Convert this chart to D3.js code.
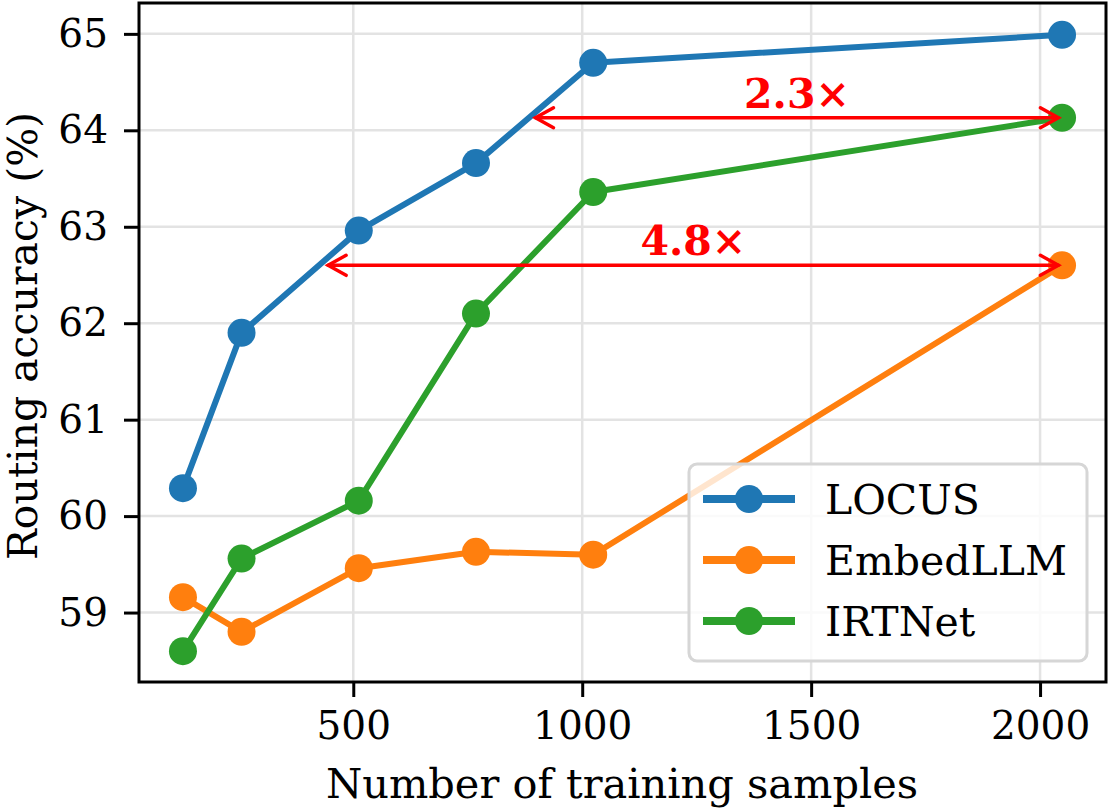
<!DOCTYPE html>
<html><head><meta charset="utf-8">
<script src="https://cdn.jsdelivr.net/npm/d3@7"></script>
<style>body{margin:0;background:#fff}svg{display:block}</style>
</head><body>
<script>
const samples = [128, 256, 512, 768, 1024, 2048];
const locus = [60.29, 61.90, 62.96, 63.66, 64.70, 64.99];
const embedllm = [59.16, 58.80, 59.46, 59.63, 59.60, 62.60];
const irtnet = [58.60, 59.56, 60.16, 62.10, 63.36, 64.13];
const seriesNames = ["LOCUS", "EmbedLLM", "IRTNet"];
const seriesColors = ["#1f77b4", "#ff7f0e", "#2ca02c"];
const xTicks = [500, 1000, 1500, 2000];
const yTicks = [59, 60, 61, 62, 63, 64, 65];
const arrowLabels = ["2.3×", "4.8×"];
const arrowFrom = [898, 445];
const arrowTo = [2040, 2040];
const arrowY = [64.13, 62.60];

const W = 1110, H = 809;
const m = {left: 139, right: 1106, top: 3, bottom: 682};
const svg = d3.select("body").append("svg").attr("width", W).attr("height", H);
const x = d3.scaleLinear().domain([32, 2144]).range([m.left, m.right]);
const y = d3.scaleLinear().domain([58.28, 65.32]).range([m.bottom, m.top]);
const font = "'DejaVu Serif', serif";

// grid
const g = svg.append("g");
g.selectAll(".gx").data(xTicks).join("line")
  .attr("x1", d => x(d)).attr("x2", d => x(d)).attr("y1", m.top).attr("y2", m.bottom)
  .attr("stroke", "#e3e3e3").attr("stroke-width", 2.5);
g.selectAll(".gy").data(yTicks).join("line")
  .attr("y1", d => y(d)).attr("y2", d => y(d)).attr("x1", m.left).attr("x2", m.right)
  .attr("stroke", "#e3e3e3").attr("stroke-width", 2.5);

// axes
const xAxis = svg.append("g").attr("transform", `translate(0,${m.bottom})`)
  .call(d3.axisBottom(x).tickValues(xTicks).tickSize(15).tickPadding(14).tickFormat(d3.format("d")));
const yAxis = svg.append("g").attr("transform", `translate(${m.left},0)`)
  .call(d3.axisLeft(y).tickValues(yTicks).tickSize(15).tickPadding(16).tickFormat(d3.format("d")));
[xAxis, yAxis].forEach(a => {
  a.select(".domain").remove();
  a.selectAll(".tick line").attr("stroke", "#000").attr("stroke-width", 3);
  a.selectAll(".tick text").attr("font-family", font).attr("font-size", 39).attr("fill", "#000");
});

// series
const allSeries = [locus, embedllm, irtnet];
const line = d3.line().x((d, i) => x(samples[i])).y(d => y(d));
allSeries.forEach((vals, k) => {
  svg.append("path").datum(vals).attr("d", line).attr("fill", "none")
    .attr("stroke", seriesColors[k]).attr("stroke-width", 6).attr("stroke-linejoin", "round");
  svg.append("g").selectAll("circle").data(vals).join("circle")
    .attr("cx", (d, i) => x(samples[i])).attr("cy", d => y(d)).attr("r", 14)
    .attr("fill", seriesColors[k]);
});

// arrows
arrowLabels.forEach((lab, k) => {
  const x1 = x(arrowFrom[k]), x2 = x(arrowTo[k]), yy = y(arrowY[k]);
  const ag = svg.append("g").attr("stroke", "#ff0000").attr("stroke-width", 3.5).attr("fill", "none")
    .attr("stroke-linecap", "round").attr("stroke-linejoin", "miter");
  ag.append("line").attr("x1", x1).attr("x2", x2).attr("y1", yy).attr("y2", yy);
  ag.append("path").attr("d", `M${x1 + 18},${yy - 10}L${x1},${yy}L${x1 + 18},${yy + 10}`);
  ag.append("path").attr("d", `M${x2 - 18},${yy - 10}L${x2},${yy}L${x2 - 18},${yy + 10}`);
  svg.append("text").attr("x", (x1 + x2) / 2).attr("y", yy - 10)
    .attr("text-anchor", "middle").attr("font-family", font).attr("font-weight", "bold")
    .attr("font-size", 41).attr("fill", "#ff0000").text(lab);
});

// frame
svg.append("rect").attr("x", m.left).attr("y", m.top).attr("width", m.right - m.left).attr("height", m.bottom - m.top)
  .attr("fill", "none").attr("stroke", "#000").attr("stroke-width", 3);

// legend
const lg = svg.append("g");
lg.append("rect").attr("x", 689).attr("y", 464).attr("width", 398).attr("height", 197).attr("rx", 8)
  .attr("fill", "rgba(255,255,255,0.8)").attr("stroke", "#d6d6d6").attr("stroke-width", 3);
seriesNames.forEach((name, k) => {
  const yy = 499 + k * 61;
  lg.append("line").attr("x1", 703).attr("x2", 795).attr("y1", yy).attr("y2", yy)
    .attr("stroke", seriesColors[k]).attr("stroke-width", 8);
  lg.append("circle").attr("cx", 749).attr("cy", yy).attr("r", 14).attr("fill", seriesColors[k]);
  lg.append("text").attr("x", 825).attr("y", yy + 15).attr("font-family", font).attr("font-size", 41)
    .attr("fill", "#000").text(name);
});

// labels
svg.append("text").attr("x", 622).attr("y", 798).attr("text-anchor", "middle")
  .attr("font-family", font).attr("font-size", 41.5).attr("fill", "#000").text("Number of training samples");
svg.append("text").attr("transform", `translate(37,336) rotate(-90)`)
  .attr("text-anchor", "middle").attr("font-family", font).attr("font-size", 41).attr("fill", "#000")
  .text("Routing accuracy (%)");
</script>
</body></html>
